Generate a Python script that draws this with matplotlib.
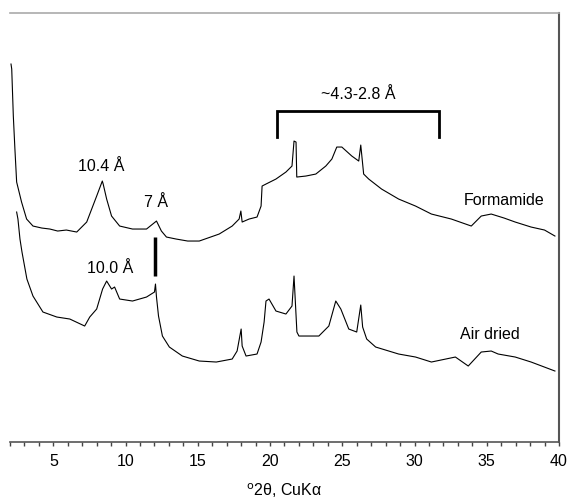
import numpy as np
import matplotlib
matplotlib.use("Agg")
import matplotlib.pyplot as plt
from matplotlib.ticker import MultipleLocator

plt.rcParams['font.family'] = ['Liberation Sans', 'DejaVu Sans']

# Formamide-solvated trace (upper), 2theta vs. arbitrary intensity
form_x = [2.07, 2.12, 2.23, 2.34, 2.46, 2.8, 3.15, 3.59, 4.2, 4.76, 5.3, 5.9, 6.62,
          7.31, 8.0, 8.39, 8.45, 8.69, 9.03, 9.59, 10.48, 11.45, 12.14, 12.48, 12.83,
          13.5, 14.3, 15.1, 16.48, 17.38, 17.86, 17.98, 18.07, 18.55, 19.1, 19.38,
          19.45, 19.72, 20.41, 21.1, 21.52, 21.66, 21.8, 21.85, 22.48, 23.17, 23.86,
          24.28, 24.62, 24.97, 25.66, 26.14, 26.28, 26.48, 26.83, 27.72, 28.9, 30.07,
          31.17, 32.55, 33.93, 34.62, 35.31, 36.2, 36.97, 38.07, 39.0, 39.72]
form_y = [378, 373, 326, 293, 260, 240, 223, 216, 214, 213, 211, 212, 210,
          220, 246, 261, 258, 243, 226, 216, 213, 213, 221, 211, 205,
          203, 201, 201, 208, 216, 223, 231, 220, 223, 225, 236,
          256, 258, 263, 270, 276, 301, 300, 265, 266, 268, 276,
          283, 295, 295, 286, 281, 297, 268, 263, 253, 243, 236,
          228, 223, 216, 226, 228, 224, 220, 215, 212, 206]

# Air-dried trace (lower)
air_x = [2.46, 2.55, 2.69, 2.83, 3.17, 3.59, 4.28, 5.24, 6.14, 7.17, 7.52, 8.0,
         8.41, 8.69, 9.03, 9.24, 9.59, 10.48, 11.45, 12.0, 12.07, 12.14, 12.28,
         12.55, 13.03, 13.93, 15.1, 16.28, 17.38, 17.72, 18.0, 18.07, 18.34, 19.1,
         19.38, 19.59, 19.72, 19.93, 20.41, 21.1, 21.52, 21.66, 21.86, 22.0, 23.38,
         24.07, 24.55, 24.9, 25.45, 26.0, 26.28, 26.41, 26.69, 27.31, 28.9, 30.07,
         31.17, 32.83, 33.72, 34.62, 35.31, 35.79, 36.97, 38.07, 39.72]
air_y = [230, 223, 203, 190, 163, 146, 130, 125, 123, 116, 125, 133,
         153, 161, 153, 155, 143, 141, 145, 150, 158, 145, 126,
         106, 95, 86, 81, 80, 83, 91, 113, 96, 86, 88,
         100, 120, 141, 143, 131, 128, 136, 166, 110, 106, 106,
         116, 141, 133, 113, 110, 137, 115, 103, 95, 88, 85,
         80, 85, 76, 90, 91, 88, 85, 80, 71]

x_ticks = [5, 10, 15, 20, 25, 30, 35, 40]

fig = plt.figure(figsize=(5.68, 5.02), dpi=100)
ax = fig.add_axes([0.0176, 0.1175, 0.9665, 0.8545])

ax.plot(form_x, form_y, color='black', lw=0.8)
ax.plot(air_x, air_y, color='black', lw=0.8)

ax.set_xlim(2, 40)
ax.set_ylim(0, 429)
ax.set_xticks(x_ticks)
ax.xaxis.set_minor_locator(MultipleLocator(1))
ax.set_yticks([])
ax.tick_params(axis='x', which='both', direction='out', length=3, width=1,
               labelsize=11.5, pad=5, color='#444444')

ax.spines['left'].set_visible(False)
ax.spines['top'].set_color('#aaaaaa')
ax.spines['top'].set_linewidth(1.2)
ax.spines['right'].set_color('#555555')
ax.spines['right'].set_linewidth(1.5)
ax.spines['bottom'].set_color('#555555')
ax.spines['bottom'].set_linewidth(1.2)

ax.set_xlabel(r'$^{\rm o}$2θ, CuKα', fontsize=11.5, labelpad=9)

# annotations
ax.text(8.3, 277, '10.4 Å', fontsize=11.5, ha='center', va='center')
ax.text(12.1, 241, '7 Å', fontsize=11.5, ha='center', va='center')
ax.text(8.9, 175, '10.0 Å', fontsize=11.5, ha='center', va='center')
ax.plot([12.07, 12.07], [166, 205], color='black', lw=2.5, solid_capstyle='butt')

ax.plot([20.48, 20.48, 31.72, 31.72], [305, 331, 331, 305], color='black', lw=2,
        solid_joinstyle='miter')
ax.text(26.1, 349, '~4.3-2.8 Å', fontsize=11.5, ha='center', va='center')

ax.text(36.2, 243, 'Formamide', fontsize=11.5, ha='center', va='center')
ax.text(35.2, 109, 'Air dried', fontsize=11.5, ha='center', va='center')

fig.savefig('out.png', dpi=100)
